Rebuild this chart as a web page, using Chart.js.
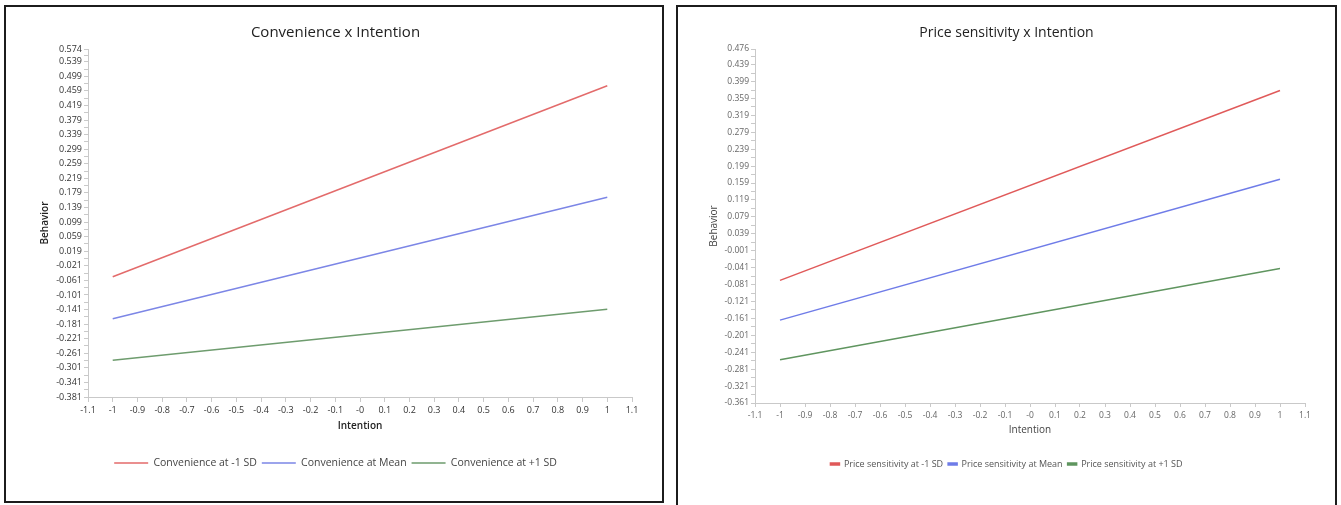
<!DOCTYPE html>
<html lang="en">
<head>
<meta charset="UTF-8">
<title>Moderation plots</title>
<script src="https://cdn.jsdelivr.net/npm/chart.js"></script>
<style>
  body { margin: 0; background: #fff; width: 1341px; height: 505px; overflow: hidden; position: relative; }
  .panel { position: absolute; border: 2px solid #1c1c1c; box-sizing: border-box; background: #fff; }
  .panel canvas { position: absolute; left: 0; top: 0; }
</style>
</head>
<body>
<div class="panel" style="left:4px; top:5px; width:660px; height:498px;">
  <canvas id="leftChart" width="656" height="494" style="width:656px;height:494px"></canvas>
</div>
<div class="panel" style="left:676px; top:5px; width:661px; height:520px;">
  <canvas id="rightChart" width="657" height="498" style="width:657px;height:498px"></canvas>
</div>
<script>
// x positions of the simple slopes (Intention at -1 SD / +1 SD)
const intentionX = [-1, 1];
const xTickLabels = ['-1.1', '-1', '-0.9', '-0.8', '-0.7', '-0.6', '-0.5', '-0.4', '-0.3', '-0.2', '-0.1',
                     '-0', '0.1', '0.2', '0.3', '0.4', '0.5', '0.6', '0.7', '0.8', '0.9', '1', '1.1'];

// Convenience x Intention
const convLabels = ['Convenience at -1 SD', 'Convenience at Mean', 'Convenience at +1 SD'];
const convLow = [-0.051, 0.473];
const convMean = [-0.166, 0.167];
const convHigh = [-0.280, -0.140];
const convYTicks = ['0.574', '0.539', '0.499', '0.459', '0.419', '0.379', '0.339', '0.299', '0.259',
                    '0.219', '0.179', '0.139', '0.099', '0.059', '0.019', '-0.021', '-0.061', '-0.101',
                    '-0.141', '-0.181', '-0.221', '-0.261', '-0.301', '-0.341', '-0.381'];

// Price sensitivity x Intention
const priceLabels = ['Price sensitivity at -1 SD', 'Price sensitivity at Mean', 'Price sensitivity at +1 SD'];
const priceLow = [-0.071, 0.378];
const priceMean = [-0.165, 0.168];
const priceHigh = [-0.259, -0.043];
const priceYTicks = ['0.476', '0.439', '0.399', '0.359', '0.319', '0.279', '0.239', '0.199', '0.159',
                     '0.119', '0.079', '0.039', '-0.001', '-0.041', '-0.081', '-0.121', '-0.161', '-0.201',
                     '-0.241', '-0.281', '-0.321', '-0.361'];

const FONT = "'Open Sans', 'Noto Sans', sans-serif";
const AXIS = '#c9c9c9';

function makeChart(id, o) {
    const yVals = o.yTicks.map(Number);
    const yLabelOf = new Map(yVals.map((v, i) => [v, o.yTicks[i]]));
    // minor ticks halfway between the labelled ones
    const yAll = [];
    yVals.forEach((v, i) => {
        yAll.push(v);
        if (i < yVals.length - 1) yAll.push((v + yVals[i + 1]) / 2);
    });
    const xVals = xTickLabels.map(Number);

    const datasets = o.series.map((ys, i) => ({
        label: o.labels[i],
        data: intentionX.map((x, j) => ({ x: x, y: ys[j] })),
        borderColor: o.colors[i],
        backgroundColor: o.colors[i],
        borderWidth: 1.5,
        pointRadius: 0,
        tension: 0,
        fill: false
    }));

    return new Chart(document.getElementById(id), {
        type: 'line',
        data: { datasets: datasets },
        options: {
            responsive: false,
            animation: false,
            layout: { padding: { left: o.padLeft, right: 30, top: 0, bottom: o.padBottom } },
            plugins: {
                tooltip: { enabled: false },
                title: {
                    display: true,
                    text: o.title,
                    color: '#222',
                    font: { family: FONT, size: o.titleSize, weight: 'normal', lineHeight: 1.2 },
                    padding: { top: 26 - o.titleSize * 0.6, bottom: 42 - 26 - o.titleSize * 0.6 }
                },
                legend: {
                    position: 'bottom',
                    labels: {
                        color: o.legendColor,
                        font: { family: FONT, size: o.legendSize },
                        boxWidth: o.boxWidth,
                        boxHeight: o.boxHeight,
                        padding: 5
                    }
                }
            },
            scales: {
                x: {
                    type: 'linear',
                    min: -1.1,
                    max: 1.1,
                    afterBuildTicks: s => { s.ticks = xVals.map(v => ({ value: v })); },
                    afterFit: s => { s.height = o.xHeight; },
                    ticks: {
                        autoSkip: false,
                        maxRotation: 0,
                        padding: 3,
                        color: o.tickColor,
                        font: { family: FONT, size: o.tickSize },
                        callback: (v, i) => xTickLabels[i]
                    },
                    grid: { drawOnChartArea: false, tickLength: o.tickLen, color: AXIS },
                    border: { color: AXIS },
                    title: {
                        display: true,
                        text: 'Intention',
                        color: o.axisTitleColor,
                        font: { family: FONT, size: 10, weight: o.axisTitleWeight, lineHeight: 1.2 },
                        padding: { top: 0, bottom: o.xTitlePadBottom }
                    }
                },
                y: {
                    min: yVals[yVals.length - 1],
                    max: yVals[0],
                    afterBuildTicks: s => { s.ticks = yAll.slice().reverse().map(v => ({ value: v })); },
                    afterFit: s => { s.width = o.yWidth; },
                    ticks: {
                        autoSkip: false,
                        padding: 2,
                        color: o.tickColor,
                        font: { family: FONT, size: o.tickSize },
                        callback: v => yLabelOf.has(v) ? yLabelOf.get(v) : ''
                    },
                    grid: { drawOnChartArea: false, tickLength: 4, color: AXIS },
                    border: { color: AXIS },
                    title: {
                        display: true,
                        text: 'Behavior',
                        color: o.axisTitleColor,
                        font: { family: FONT, size: 10, weight: o.axisTitleWeight, lineHeight: 1.2 },
                        padding: 0
                    }
                }
            }
        }
    });
}

makeChart('leftChart', {
    title: 'Convenience x Intention',
    titleSize: 15,
    labels: convLabels,
    series: [convLow, convMean, convHigh],
    colors: ['#e36b6b', '#7c86e6', '#6e9c6e'],
    yTicks: convYTicks,
    padLeft: 33, yWidth: 49,
    padBottom: 22.75, xHeight: 55.75, xTitlePadBottom: 20.75,
    tickSize: 9, tickColor: '#333', tickLen: 5,
    axisTitleColor: '#222', axisTitleWeight: '600',
    legendSize: 10.5, legendColor: '#444', boxWidth: 34, boxHeight: 0
});

makeChart('rightChart', {
    title: 'Price sensitivity x Intention',
    titleSize: 14,
    labels: priceLabels,
    series: [priceLow, priceMean, priceHigh],
    colors: ['#e05a5a', '#6f7ce8', '#5f955f'],
    yTicks: priceYTicks,
    padLeft: 30, yWidth: 47,
    padBottom: 26.5, xHeight: 51.5, xTitlePadBottom: 18.5,
    tickSize: 8.5, tickColor: '#666', tickLen: 4,
    axisTitleColor: '#444', axisTitleWeight: 'normal',
    legendSize: 9, legendColor: '#555', boxWidth: 9, boxHeight: 2
});
</script>
</body>
</html>
